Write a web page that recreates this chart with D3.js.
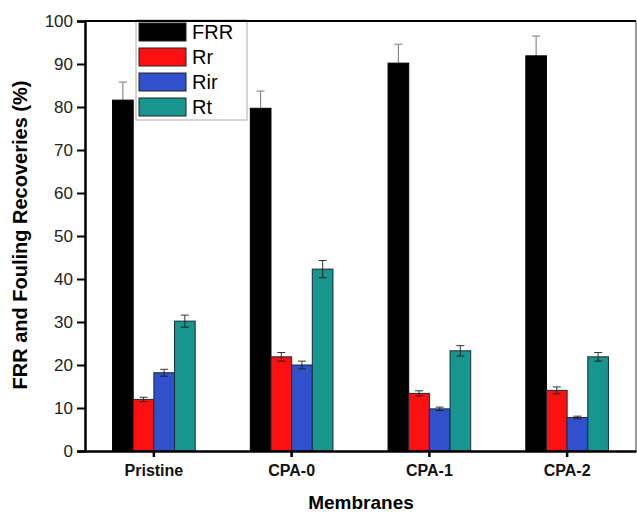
<!DOCTYPE html>
<html>
<head>
<meta charset="utf-8">
<script src="https://cdn.jsdelivr.net/npm/d3@7"></script>
<style>
  body { margin: 0; background: #fff; }
  text { font-family: "Liberation Sans", Arial, sans-serif; }
</style>
</head>
<body>
<script>
// data
const membranes = ['Pristine', 'CPA-0', 'CPA-1', 'CPA-2'];
const seriesNames = ['FRR', 'Rr', 'Rir', 'Rt'];
const frr = [81.6, 79.7, 90.2, 91.9];
const rr = [12.0, 21.9, 13.4, 14.1];
const rir = [18.2, 20.0, 9.8, 7.8];
const rt = [30.2, 42.3, 23.3, 21.9];
const frrErr = [4.2, 4.0, 4.4, 4.6];
const rrErr = [0.5, 1.0, 0.6, 0.8];
const rirErr = [0.8, 0.9, 0.4, 0.3];
const rtErr = [1.4, 2.0, 1.2, 1.0];
const yTicks = [0, 10, 20, 30, 40, 50, 60, 70, 80, 90, 100];

const colors = ['#000000', '#ff1010', '#3050cc', '#16968f'];
const values = [frr, rr, rir, rt];
const errs = [frrErr, rrErr, rirErr, rtErr];

// set variables
const w = 637, h = 512;
const pLeft = 85, pRight = 636, pTop = 21, pBottom = 451;

const svg = d3.select('body').append('svg')
    .attr('width', w)
    .attr('height', h);

const x0 = d3.scaleBand().domain(membranes).range([pLeft, pRight])
    .paddingInner(0.4).paddingOuter(0.2);
const x1 = d3.scaleBand().domain(seriesNames).range([0, x0.bandwidth()]);
const y = d3.scaleLinear().domain([0, 100]).range([pBottom, pTop]);

// flatten into rows for drawing
let rows = [];
membranes.forEach((m, i) => {
    seriesNames.forEach((s, j) => {
        rows.push({m: m, s: s, v: values[j][i], e: errs[j][i], c: colors[j]});
    });
});

// error bars (behind bars)
const eb = svg.append('g').selectAll('g').data(rows).enter().append('g')
    .attr('transform', d => `translate(${x0(d.m) + x1(d.s) + x1.bandwidth() / 2},0)`);
eb.append('line')
    .attr('y1', d => d.s === 'FRR' ? y(d.v) : y(d.v - d.e))
    .attr('y2', d => y(d.v + d.e))
    .attr('stroke', d => d.s === 'FRR' ? '#777' : '#333')
    .attr('stroke-width', 1);
eb.append('line')
    .attr('x1', -4).attr('x2', 4)
    .attr('y1', d => y(d.v + d.e)).attr('y2', d => y(d.v + d.e))
    .attr('stroke', d => d.s === 'FRR' ? '#777' : '#333')
    .attr('stroke-width', 1);

// bars
svg.append('g').selectAll('rect').data(rows).enter().append('rect')
    .attr('x', d => x0(d.m) + x1(d.s))
    .attr('y', d => y(d.v))
    .attr('width', x1.bandwidth())
    .attr('height', d => y(0) - y(d.v))
    .attr('fill', d => d.c)
    .attr('stroke', d => d.s === 'FRR' ? '#000' : '#1a2a3a')
    .attr('stroke-width', 1);

// lower half of the error bars drawn over the bars
const eb2 = svg.append('g').selectAll('g').data(rows.filter(d => d.s !== 'FRR')).enter().append('g')
    .attr('transform', d => `translate(${x0(d.m) + x1(d.s) + x1.bandwidth() / 2},0)`);
eb2.append('line')
    .attr('y1', d => y(d.v)).attr('y2', d => y(d.v - d.e))
    .attr('stroke', '#222').attr('stroke-width', 1);
eb2.append('line')
    .attr('x1', -4).attr('x2', 4)
    .attr('y1', d => y(d.v - d.e)).attr('y2', d => y(d.v - d.e))
    .attr('stroke', '#222').attr('stroke-width', 1);

// legend
const lg = svg.append('g');
lg.append('rect')
    .attr('x', 136).attr('y', 20).attr('width', 111).attr('height', 100)
    .attr('fill', '#fff').attr('stroke', '#aaa').attr('stroke-width', 1);
const li = lg.selectAll('g').data(seriesNames).enter().append('g')
    .attr('transform', (d, i) => `translate(139,${23 + i * 25})`);
li.append('rect')
    .attr('width', 47).attr('height', 18)
    .attr('fill', (d, i) => colors[i])
    .attr('stroke', '#222').attr('stroke-width', 1);
li.append('text')
    .attr('x', 53).attr('y', 16)
    .style('font-size', '20px')
    .text(d => d);

// frame
svg.append('line').attr('x1', pLeft).attr('x2', pRight).attr('y1', pTop).attr('y2', pTop)
    .attr('stroke', '#000').attr('stroke-width', 2);
svg.append('line').attr('x1', pRight).attr('x2', pRight).attr('y1', pTop).attr('y2', pBottom)
    .attr('stroke', '#333').attr('stroke-width', 1);

// axes
const yAxis = d3.axisLeft(y).tickValues(yTicks).tickSize(8).tickPadding(4);
const gy = svg.append('g').attr('transform', `translate(${pLeft},0)`).call(yAxis);
gy.select('.domain').attr('stroke-width', 2.5);
gy.selectAll('.tick line').attr('stroke-width', 2);
gy.selectAll('.tick text').style('font-size', '17px').attr('fill', '#222')
    .style('font-family', '"Liberation Sans", Arial, sans-serif');

const xAxis = d3.axisBottom(x0).tickSize(6).tickSizeOuter(0).tickPadding(8);
const gx = svg.append('g').attr('transform', `translate(0,${pBottom})`).call(xAxis);
gx.select('.domain').attr('stroke-width', 2.5);
gx.selectAll('.tick line').attr('stroke-width', 2.5);
gx.selectAll('.tick text').style('font-size', '16px').style('font-weight', 'bold')
    .style('font-family', '"Liberation Sans", Arial, sans-serif').attr('fill', '#111');

// axis titles
svg.append('text')
    .attr('x', 361).attr('y', 509)
    .attr('text-anchor', 'middle')
    .style('font-size', '19px').style('font-weight', 'bold')
    .text('Membranes');

svg.append('text')
    .attr('transform', 'translate(27,235) rotate(-90)')
    .attr('text-anchor', 'middle')
    .style('font-size', '20px').style('font-weight', 'bold')
    .text('FRR and Fouling Recoveries (%)');
</script>
</body>
</html>
